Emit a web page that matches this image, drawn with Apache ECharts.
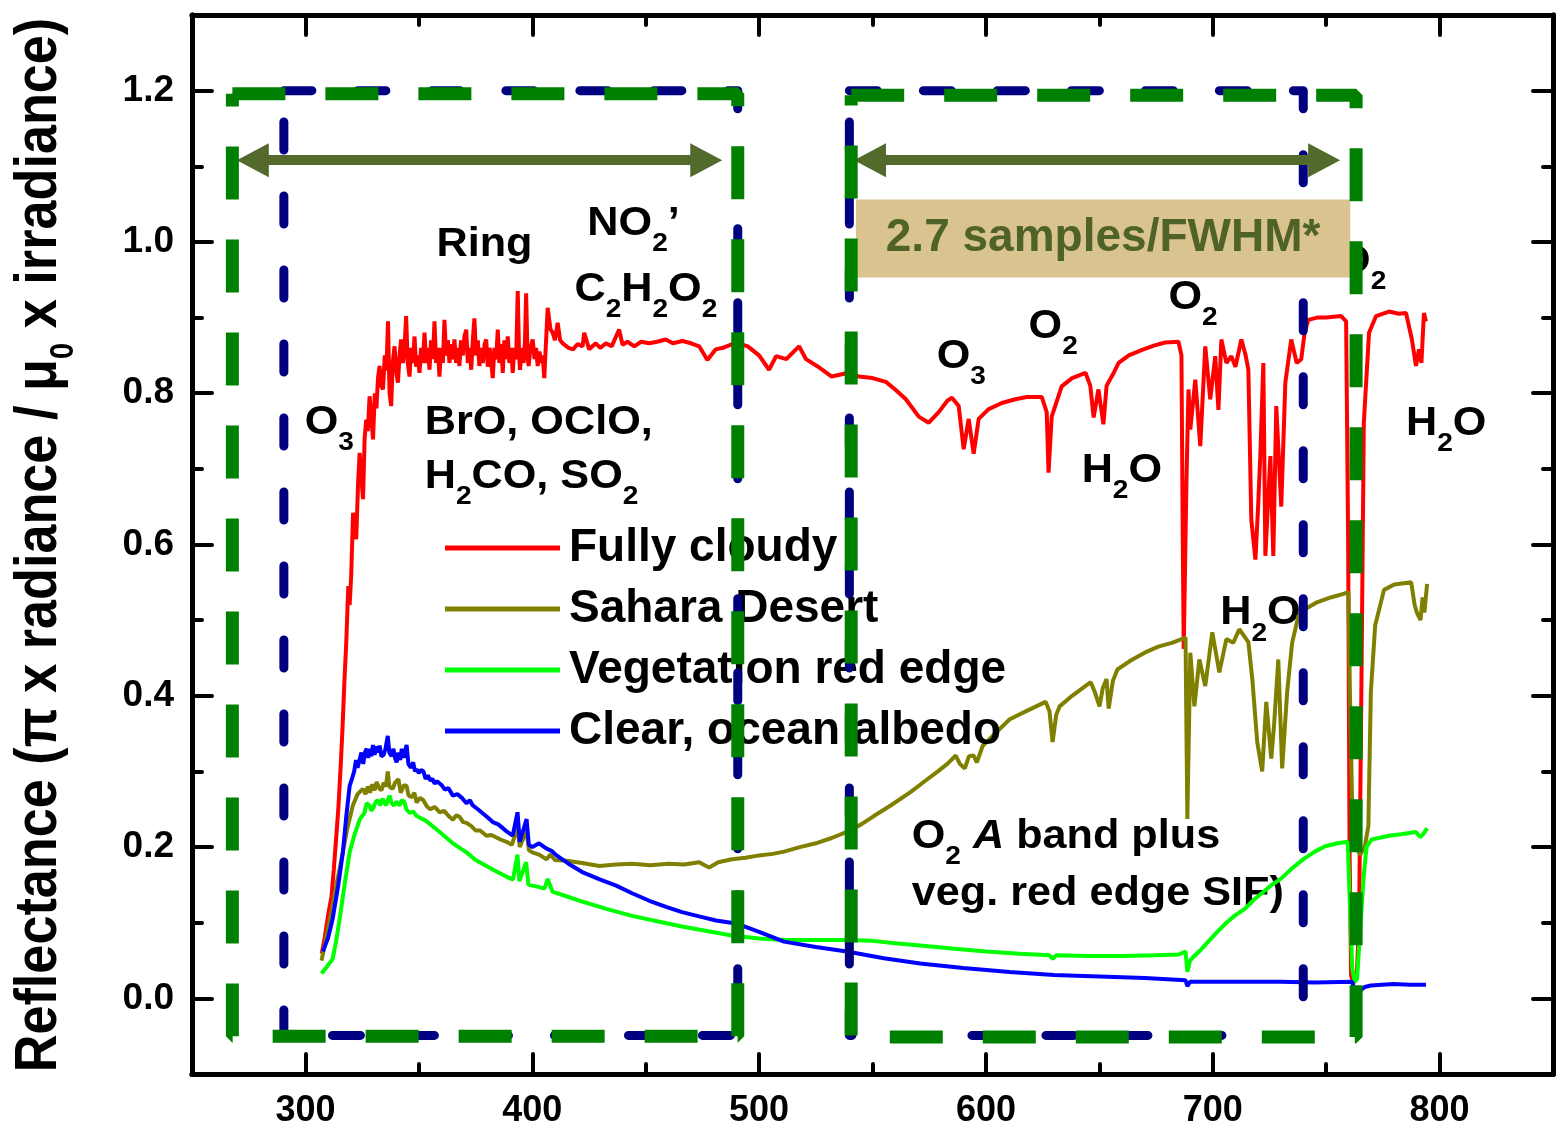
<!DOCTYPE html>
<html>
<head>
<meta charset="utf-8">
<script src="https://cdn.jsdelivr.net/npm/echarts@6/dist/echarts.min.js"></script>
<style>
html, body { margin: 0; padding: 0; background: #fff; }
#chart { width: 1567px; height: 1139px; }
</style>
</head>
<body>
<div id="chart"></div>
<script>
var FF = '"Liberation Sans", Arial, Helvetica, sans-serif';

// [wavelength nm, reflectance]
var fullyCloudy = [[307.2,0.059],[308.5,0.08],[310,0.11],[311.5,0.135],[312.5,0.17],[313.5,0.21],[314.5,0.25],[315.6,0.31],[316.4,0.36],[317.2,0.42],[318,0.47],[318.9,0.545],[319.5,0.52],[320.2,0.56],[321,0.642],[322.4,0.607],[323.2,0.68],[323.9,0.721],[324.6,0.69],[325.4,0.66],[326.1,0.74],[326.8,0.765],[327.5,0.75],[328.3,0.796],[329,0.77],[329.8,0.739],[330.6,0.8],[331.3,0.78],[332,0.82],[332.7,0.836],[333.4,0.81],[334.2,0.805],[335,0.85],[335.7,0.83],[336.4,0.895],[337.1,0.8],[337.8,0.783],[338.5,0.84],[339.3,0.862],[340,0.83],[340.8,0.814],[341.5,0.85],[342.2,0.871],[343,0.84],[343.7,0.86],[344.4,0.902],[345.1,0.84],[345.9,0.822],[346.6,0.86],[347.4,0.84],[348.1,0.875],[348.8,0.835],[349.5,0.85],[350.3,0.827],[351,0.86],[351.8,0.84],[352.5,0.88],[353.2,0.84],[354,0.86],[354.7,0.831],[355.4,0.87],[356.2,0.845],[356.9,0.895],[357.6,0.84],[358.4,0.86],[359.1,0.822],[359.8,0.86],[360.6,0.84],[361.3,0.897],[362,0.85],[362.8,0.87],[363.5,0.84],[364.2,0.865],[365,0.845],[365.7,0.871],[366.4,0.84],[367.2,0.86],[367.9,0.836],[368.6,0.87],[369.4,0.85],[370.1,0.875],[370.9,0.884],[371.6,0.84],[372.4,0.86],[373.1,0.831],[373.8,0.87],[374.5,0.899],[375.2,0.85],[376,0.87],[376.7,0.836],[377.4,0.86],[378.2,0.84],[379,0.865],[379.7,0.871],[380.4,0.835],[381.2,0.86],[381.9,0.84],[382.6,0.82],[383.3,0.86],[384.1,0.845],[384.8,0.884],[385.5,0.84],[386.3,0.865],[387,0.827],[387.7,0.87],[388.5,0.845],[389.2,0.875],[389.9,0.84],[390.7,0.86],[391.4,0.827],[392.1,0.86],[392.9,0.845],[393.6,0.935],[394.2,0.85],[394.6,0.831],[395.4,0.86],[396.2,0.84],[396.8,0.87],[397.3,0.932],[397.9,0.85],[398.4,0.836],[399.2,0.86],[400.2,0.871],[401,0.845],[401.7,0.86],[402.4,0.836],[403.2,0.855],[404,0.84],[404.6,0.85],[405.3,0.82],[406.8,0.913],[408,0.885],[409,0.88],[410,0.87],[411.2,0.893],[412.3,0.87],[413.4,0.866],[416,0.86],[418,0.858],[420,0.865],[422.2,0.862],[422.9,0.88],[425.1,0.858],[428,0.866],[430,0.86],[432.5,0.866],[435,0.862],[438.3,0.884],[439.8,0.864],[442,0.868],[445,0.862],[448,0.868],[451.6,0.866],[455,0.868],[458.9,0.871],[462,0.866],[466.2,0.869],[470,0.866],[473.6,0.862],[477.2,0.844],[480.9,0.858],[484,0.86],[489.9,0.867],[495,0.862],[500,0.85],[504.4,0.831],[507.5,0.849],[512,0.845],[517.6,0.862],[520.7,0.845],[526,0.835],[532,0.822],[538,0.826],[544,0.822],[550,0.82],[555.9,0.815],[560,0.805],[564.7,0.792],[570.4,0.769],[574.8,0.761],[579.2,0.775],[583,0.79],[585,0.794],[588,0.783],[590.2,0.726],[592.4,0.766],[594.6,0.72],[596.8,0.766],[601.2,0.779],[607,0.787],[613,0.792],[618,0.795],[624.6,0.795],[626.8,0.775],[627.6,0.695],[629,0.769],[633.4,0.809],[638,0.82],[643.9,0.827],[646,0.81],[647.5,0.768],[649.6,0.805],[651.8,0.759],[653.2,0.81],[656,0.825],[658.5,0.84],[663,0.85],[668.6,0.857],[674,0.863],[679,0.867],[684.9,0.868],[686.2,0.85],[686.8,0.6],[687.2,0.462],[688.4,0.682],[689.3,0.805],[690.1,0.752],[692.3,0.818],[694.5,0.73],[696.7,0.862],[698.9,0.792],[701.1,0.849],[702.5,0.778],[703.8,0.871],[706,0.84],[708.2,0.849],[710,0.835],[712.6,0.871],[714.5,0.85],[715.7,0.831],[717,0.633],[718.8,0.58],[720,0.65],[721,0.72],[722.3,0.84],[723.2,0.585],[725.4,0.717],[726.7,0.585],[728,0.783],[730.2,0.65],[732,0.814],[734.6,0.871],[737,0.84],[739,0.845],[740.5,0.88],[742.1,0.897],[746,0.9],[750,0.9],[756.6,0.902],[758.8,0.895],[759.7,0.6],[760.3,0.2],[761,0.03],[762,0.02],[763.5,0.03],[764.5,0.1],[765.5,0.4],[766.6,0.761],[768.9,0.88],[772,0.902],[777.7,0.908],[782,0.905],[785.2,0.906],[787.8,0.871],[789.6,0.836],[790.9,0.858],[792,0.84],[793.1,0.906],[794,0.895]];

var saharaDesert = [[307.1,0.05],[309.5,0.085],[312,0.122],[314,0.155],[316.5,0.193],[318.5,0.225],[320.9,0.255],[323,0.27],[325.3,0.277],[326.5,0.27],[327.5,0.28],[328.5,0.272],[329.5,0.283],[330.5,0.275],[331.4,0.286],[332.5,0.278],[333.5,0.275],[334.5,0.285],[335.5,0.28],[336.3,0.3],[337,0.28],[338.5,0.277],[339.5,0.285],[341,0.29],[342,0.272],[342.5,0.27],[343.5,0.282],[344.6,0.281],[345.5,0.268],[347,0.266],[348,0.272],[349,0.259],[350.5,0.265],[352,0.262],[353.5,0.254],[355,0.25],[357,0.253],[359.2,0.246],[361,0.248],[362,0.245],[363.5,0.24],[365,0.236],[366.5,0.242],[368,0.24],[369.5,0.233],[371,0.232],[373,0.228],[375,0.222],[377,0.222],[379.8,0.215],[382,0.216],[384,0.213],[386,0.21],[388.6,0.207],[391,0.203],[393.5,0.226],[394.5,0.2],[397.5,0.222],[398.5,0.196],[400,0.193],[403,0.19],[406.3,0.184],[408,0.19],[410,0.183],[415,0.182],[422,0.179],[429.6,0.175],[437,0.177],[444,0.178],[452,0.176],[460,0.178],[467,0.177],[473.6,0.18],[476,0.176],[478,0.173],[482,0.18],[488,0.184],[494,0.186],[500,0.189],[506,0.191],[511,0.194],[518,0.2],[525,0.205],[532,0.212],[538.7,0.22],[545,0.23],[550.6,0.241],[558,0.255],[566.9,0.273],[573,0.287],[578.8,0.3],[583,0.31],[586.7,0.321],[588.5,0.31],[590.7,0.304],[592.5,0.32],[594.6,0.321],[596,0.312],[598.6,0.334],[604,0.35],[610.5,0.369],[618,0.38],[626.3,0.392],[628,0.38],[629.4,0.339],[631,0.375],[632.5,0.386],[638,0.4],[646.2,0.418],[648,0.405],[650.1,0.386],[651.5,0.41],[653.2,0.422],[654.1,0.383],[656,0.42],[658,0.435],[664,0.447],[670,0.457],[676,0.465],[682,0.47],[688,0.477],[688.8,0.237],[690.1,0.457],[691.9,0.386],[694.1,0.448],[696.7,0.413],[699.8,0.484],[702.9,0.431],[706,0.475],[709,0.47],[711.7,0.488],[715.7,0.471],[717.5,0.42],[719.6,0.339],[721.8,0.3],[723.6,0.392],[725.8,0.317],[727,0.36],[728.9,0.448],[730.6,0.304],[732.8,0.405],[735,0.47],[737.7,0.505],[741,0.515],[745.6,0.523],[752,0.53],[758,0.535],[759.8,0.537],[760.5,0.4],[761.5,0.25],[763,0.2],[765,0.19],[767,0.2],[768.6,0.228],[769.7,0.405],[771.6,0.493],[775.5,0.54],[780,0.547],[787.5,0.55],[789,0.52],[790,0.51],[791.6,0.5],[792.5,0.53],[793.3,0.51],[794.5,0.548]];

var vegetationRedEdge = [[307.1,0.033],[309,0.04],[312,0.052],[313.5,0.075],[315.1,0.105],[317,0.145],[319.5,0.193],[321.5,0.215],[324,0.237],[326,0.245],[327,0.258],[328.3,0.255],[329,0.248],[330,0.252],[331,0.26],[332,0.262],[333,0.255],[334,0.264],[335.5,0.255],[336.3,0.262],[337.1,0.268],[338,0.258],[339,0.255],[340,0.26],[341.5,0.255],[342.5,0.262],[343.5,0.26],[344.5,0.25],[346,0.245],[347.5,0.247],[349,0.241],[353,0.235],[359.2,0.22],[365,0.205],[371,0.193],[375,0.183],[379.8,0.175],[384,0.168],[388.6,0.161],[391.5,0.157],[393.5,0.19],[394.3,0.155],[397.3,0.18],[398.3,0.15],[400.1,0.149],[403,0.147],[405.4,0.145],[406.8,0.158],[408.9,0.141],[415,0.135],[422,0.128],[433,0.118],[444,0.109],[455,0.102],[466,0.095],[477,0.089],[488,0.083],[500,0.079],[511,0.077],[525,0.077],[538.7,0.077],[550,0.076],[560,0.073],[571,0.07],[585,0.066],[600,0.062],[615,0.059],[628,0.057],[629.5,0.052],[631,0.057],[645,0.056],[660,0.056],[675,0.057],[685,0.058],[688,0.062],[688.8,0.035],[690,0.05],[691.9,0.056],[695,0.065],[698,0.075],[702,0.088],[706,0.1],[710,0.11],[714,0.118],[718,0.13],[722,0.14],[726,0.15],[730,0.158],[735,0.172],[740,0.184],[745,0.194],[749.6,0.201],[755,0.205],[759.5,0.207],[760.5,0.12],[761.5,0.04],[762.5,0.022],[763.6,0.025],[765,0.09],[766.5,0.16],[767.8,0.2],[770,0.21],[777.7,0.215],[783,0.217],[789.6,0.22],[791.5,0.213],[793,0.218],[794.5,0.225]];

var clearOcean = [[307.7,0.062],[310,0.08],[312,0.105],[314.5,0.15],[316.5,0.193],[318,0.24],[319.5,0.281],[320.5,0.29],[321.5,0.3],[322.3,0.315],[323,0.305],[324,0.317],[324.7,0.325],[325.5,0.31],[326.2,0.325],[327,0.33],[327.7,0.318],[328.4,0.33],[329,0.32],[329.8,0.335],[330.5,0.322],[331.2,0.333],[332,0.325],[332.7,0.334],[333.5,0.32],[334.5,0.322],[335.3,0.33],[336.3,0.347],[337,0.325],[338,0.32],[338.8,0.33],[339.5,0.318],[340.2,0.312],[341,0.325],[341.8,0.315],[342.5,0.33],[343.3,0.318],[344.6,0.335],[345.4,0.31],[346.5,0.305],[347.5,0.312],[348.3,0.3],[349,0.303],[350,0.298],[351,0.302],[352,0.3],[353,0.29],[354,0.295],[355,0.288],[356,0.29],[357,0.284],[358,0.287],[360,0.282],[361.5,0.276],[363,0.278],[365,0.268],[367,0.27],[369,0.265],[371,0.258],[372.5,0.262],[373.8,0.255],[376,0.25],[378,0.245],[380,0.24],[382.6,0.233],[385,0.23],[387,0.225],[389,0.22],[391.4,0.215],[393.5,0.246],[394.5,0.207],[397.5,0.237],[398.5,0.203],[400.1,0.2],[403,0.205],[406.3,0.198],[408.5,0.195],[410.7,0.189],[416,0.178],[422,0.167],[430,0.157],[437,0.149],[444,0.139],[451.6,0.129],[459,0.121],[466,0.114],[474,0.108],[481,0.103],[489.9,0.099],[500,0.088],[511,0.075],[525,0.068],[538.7,0.062],[555,0.053],[571,0.046],[590,0.04],[610.5,0.035],[630,0.031],[650,0.029],[670,0.027],[688,0.024],[688.8,0.016],[690,0.022],[710,0.022],[730,0.022],[745,0.021],[761.5,0.022],[762.5,0.01],[763.6,0.006],[765,0.01],[767,0.015],[769.7,0.017],[779.5,0.019],[787,0.018],[794,0.018]];

var seriesNames = ['Fully cloudy', 'Sahara Desert', 'Vegetation red edge', 'Clear, ocean albedo'];
var seriesColors = ['#ff0000', '#808000', '#00ff00', '#0000ff'];
var seriesData = [fullyCloudy, saharaDesert, vegetationRedEdge, clearOcean];

var xMajorTicks = [300, 400, 500, 600, 700, 800];
var xMinorTicks = [350, 450, 550, 650, 750];
var yMajorTicks = [0, 0.2, 0.4, 0.6, 0.8, 1.0, 1.2];
var yMinorTicks = [0.1, 0.3, 0.5, 0.7, 0.9, 1.1];

// dashed spectral windows: [x0, x1, yTop, yBottom]
var blueWindows = [[290.5, 490.6, 1.2, -0.049], [539.8, 739.9, 1.2, -0.049]];
var greenWindows = [[267.8, 490.6, 1.196, -0.05], [540.6, 763.2, 1.194, -0.051]];
// double arrows: [x0, x1, y]
var arrows = [[276.8, 476.7, 1.108], [548.9, 749.1, 1.108]];
// tan box: [x0, x1, yTop, yBottom]
var samplingBox = [542.7, 760.6, 1.056, 0.953];

// labels: [text, x, y] (left edge, middle of the main letters)
var annotations = [
    ['{m|Ring}', 357.8, 0.996],
    ['{m|NO}{s|2}{m|\u2019}', 424.3, 1.024],
    ['{m|C}{s|2}{m|H}{s|2}{m|O}{s|2}', 418.6, 0.937],
    ['{m|O}{s|3}', 299.7, 0.761],
    ['{m|BrO, OClO,}', 352.6, 0.761],
    ['{m|H}{s|2}{m|CO, SO}{s|2}', 352.6, 0.689],
    ['{m|O}{s|3}', 578.3, 0.848],
    ['{m|O}{s|2}', 618.8, 0.888],
    ['{m|O}{s|2}', 680.5, 0.926],
    ['{m|O}{s|2}', 754.8, 0.974],
    ['{m|H}{s|2}{m|O}', 642.2, 0.697],
    ['{m|H}{s|2}{m|O}', 703.3, 0.509],
    ['{m|H}{s|2}{m|O}', 785.2, 0.76],
    ['{m|O}{s|2}{m| }{i|A}{m| band plus}', 567.3, 0.213],
    ['{m|veg. red edge SIF)}', 567.3, 0.138]
];

var chart = echarts.init(document.getElementById('chart'));

function xAxisDef(pos, ticks, len, labels) {
    return {
        type: 'value', gridIndex: 0, position: pos, min: 250, max: 850,
        axisLine: { show: true, onZero: false, lineStyle: { color: '#000', width: 5 } },
        axisTick: { show: true, inside: true, length: len, customValues: ticks,
            lineStyle: { color: '#000', width: 4, cap: 'round' } },
        axisLabel: { show: labels, customValues: ticks, margin: 19, color: '#000',
            fontSize: 36, fontWeight: 'bold', fontFamily: FF },
        splitLine: { show: false }
    };
}

function yAxisDef(pos, ticks, len, labels) {
    return {
        type: 'value', gridIndex: 0, position: pos, min: -0.1, max: 1.3,
        axisLine: { show: true, onZero: false, lineStyle: { color: '#000', width: 5 } },
        axisTick: { show: true, inside: true, length: len, customValues: ticks,
            lineStyle: { color: '#000', width: 4, cap: 'round' } },
        axisLabel: { show: labels, customValues: ticks, margin: 18, color: '#000',
            fontSize: 37, fontWeight: 'bold', fontFamily: FF,
            formatter: function (v) { return v.toFixed(1); } },
        splitLine: { show: false }
    };
}

function rectPath(w) {
    return [[w[0], w[2]], [w[1], w[2]], [w[1], w[3]], [w[0], w[3]], [w[0], w[2]]];
}

var series = [];
seriesData.forEach(function (d, i) {
    series.push({
        name: seriesNames[i], type: 'line', data: d, symbol: 'none', showSymbol: false,
        xAxisIndex: 0, yAxisIndex: 0, z: 2, silent: true,
        lineStyle: { color: seriesColors[i], width: 4 },
        itemStyle: { color: seriesColors[i] }
    });
});
blueWindows.forEach(function (w) {
    series.push({
        type: 'line', data: rectPath(w), symbol: 'none', xAxisIndex: 0, yAxisIndex: 0, z: 5, silent: true,
        lineStyle: { color: '#000080', width: 9, type: [28, 46], cap: 'round', join: 'round' }
    });
});
series.push({
    type: 'line', data: [], xAxisIndex: 0, yAxisIndex: 0, z: 6, silent: true,
    markArea: {
        silent: true, z: 6,
        itemStyle: { color: '#d9c38e', opacity: 1 },
        label: { show: true, position: 'inside', color: '#4f6228', fontSize: 46,
            fontWeight: 'bold', fontFamily: FF },
        data: [[{ name: '2.7 samples/FWHM*', coord: [samplingBox[0], samplingBox[2]] },
            { coord: [samplingBox[1], samplingBox[3]] }]]
    },
    markLine: {
        silent: true, z: 6, symbol: ['triangle', 'triangle'], symbolSize: [34, 32],
        label: { show: false },
        lineStyle: { color: '#546a2d', width: 10, type: 'solid' },
        data: arrows.map(function (a) {
            return [{ coord: [a[0], a[2]] }, { coord: [a[1], a[2]] }];
        })
    }
});
greenWindows.forEach(function (w) {
    series.push({
        type: 'line', data: rectPath(w), symbol: 'none', xAxisIndex: 0, yAxisIndex: 0, z: 7, silent: true,
        lineStyle: { color: '#008000', width: 13, type: [53, 40], cap: 'butt' }
    });
});

var option = {
    animation: false,
    backgroundColor: '#fff',
    grid: { left: 192, right: 14, top: 15, bottom: 65, outerBoundsMode: 'none' },
    xAxis: [
        xAxisDef('bottom', xMajorTicks, 20, true),
        xAxisDef('bottom', xMinorTicks, 10, false),
        xAxisDef('top', xMajorTicks, 20, false),
        xAxisDef('top', xMinorTicks, 10, false)
    ],
    yAxis: [
        yAxisDef('left', yMajorTicks, 20, true),
        yAxisDef('left', yMinorTicks, 10, false),
        yAxisDef('right', yMajorTicks, 20, false),
        yAxisDef('right', yMinorTicks, 10, false)
    ],
    legend: {
        data: seriesNames, orient: 'vertical', left: 440, top: 520, icon: 'rect',
        itemWidth: 115, itemHeight: 5, itemGap: 15, selectedMode: false,
        textStyle: { fontSize: 46, lineHeight: 46, fontWeight: 'bold', color: '#000',
            fontFamily: FF, padding: [0, 0, 0, 4] }
    },
    series: series
};
chart.setOption(option);

// subscripts: a taller line box pushes the small digit below the main letters
var richAnno = {
    m: { fontSize: 40, lineHeight: 40, verticalAlign: 'top', fontWeight: 'bold', fontFamily: FF, fill: '#000' },
    i: { fontSize: 40, lineHeight: 40, verticalAlign: 'top', fontWeight: 'bold', fontStyle: 'italic', fontFamily: FF, fill: '#000' },
    s: { fontSize: 26, lineHeight: 80, verticalAlign: 'middle', fontWeight: 'bold', fontFamily: FF, fill: '#000' }
};

var graphics = annotations.map(function (a) {
    var p = chart.convertToPixel({ seriesIndex: 0 }, [a[1], a[2]]);
    return {
        type: 'text', x: p[0], y: p[1] - 20, scaleX: 1.08, z: 0, silent: true,
        style: { text: a[0], rich: richAnno, align: 'left', verticalAlign: 'top' }
    };
});

graphics.push({
    type: 'text', x: 64, y: 545, rotation: Math.PI / 2, scaleX: 0.87, silent: true,
    style: {
        text: '{t|Reflectance (\u03c0 x radiance / \u03bc}{u|0}{t| x irradiance)}',
        align: 'center', verticalAlign: 'middle',
        rich: {
            t: { fontSize: 60, lineHeight: 60, verticalAlign: 'top', fontWeight: 'bold', fontFamily: FF, fill: '#000' },
            u: { fontSize: 34, lineHeight: 110, verticalAlign: 'middle', fontWeight: 'bold', fontFamily: FF, fill: '#000' }
        }
    }
});

chart.setOption({ graphic: graphics });

window.onresize = function () {
    chart.resize();
};
</script>
</body>
</html>
